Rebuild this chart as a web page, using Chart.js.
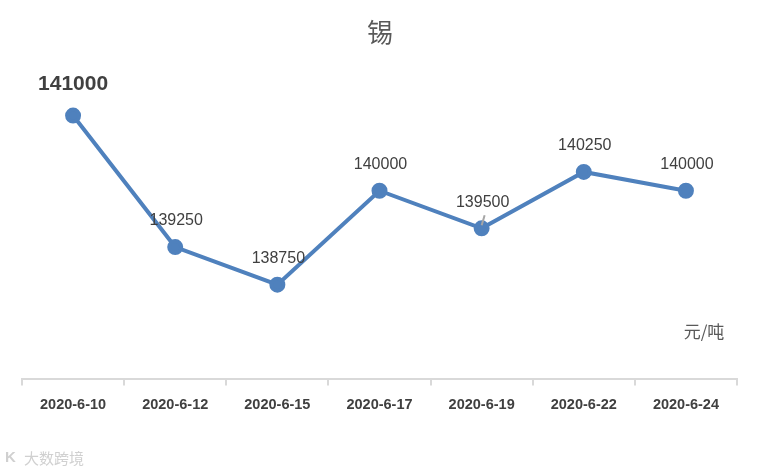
<!DOCTYPE html>
<html lang="zh">
<head>
<meta charset="UTF-8">
<title>锡</title>
<script src="https://cdn.jsdelivr.net/npm/chart.js"></script>
<style>
  body { margin: 0; background: #fff; }
  #wrap { width: 760px; height: 472px; }
</style>
</head>
<body>
<div id="wrap"><canvas id="tinChart" width="760" height="472"></canvas></div>
<script>
// data (元/吨)
const dates = ['2020-6-10', '2020-6-12', '2020-6-15', '2020-6-17', '2020-6-19', '2020-6-22', '2020-6-24'];
const prices = [141000, 139250, 138750, 140000, 139500, 140250, 140000];
const chartTitle = '锡';
const unitLabel = '元/吨';
const watermark = '大数跨境';

const lineBlue = '#4f81bd';
const textGrey = '#404040';
const axisGrey = '#d9d9d9';

// draws title, unit, watermark and the value labels over the points
const extras = {
  id: 'extras',
  afterDatasetsDraw(chart) {
    const ctx = chart.ctx;
    const meta = chart.getDatasetMeta(0);
    ctx.save();
    ctx.textAlign = 'center';
    ctx.textBaseline = 'middle';

    ctx.fillStyle = '#595959';
    ctx.font = '26px "Noto Sans CJK SC"';
    ctx.fillText(chartTitle, 380, 32);

    ctx.font = '17px "Noto Sans CJK SC"';
    ctx.fillText(unitLabel, 704, 332);

    // leader line for the 5th label
    const p4 = meta.data[4];
    ctx.strokeStyle = '#a6a6a6';
    ctx.lineWidth = 2;
    ctx.beginPath();
    ctx.moveTo(p4.x, p4.y - 3);
    ctx.lineTo(p4.x + 3, p4.y - 13);
    ctx.stroke();

    meta.data.forEach((pt, i) => {
      ctx.fillStyle = textGrey;
      if (i === 0) {
        ctx.font = 'bold 21px "Liberation Sans"';
        ctx.fillText(prices[i], pt.x, pt.y - 31);
      } else {
        ctx.font = '16px "Liberation Sans"';
        ctx.fillText(prices[i], pt.x + 1, pt.y - 26);
      }
    });

    // watermark
    ctx.textAlign = 'left';
    ctx.fillStyle = '#d0d0d0';
    ctx.font = 'bold 15px "Liberation Sans"';
    ctx.fillText('K', 5, 458);
    ctx.font = '15px "Noto Sans CJK SC"';
    ctx.fillText(watermark, 24, 458);
    ctx.restore();
  }
};

new Chart(document.getElementById('tinChart'), {
  type: 'line',
  data: {
    labels: dates,
    datasets: [{
      data: prices,
      borderColor: lineBlue,
      backgroundColor: lineBlue,
      borderWidth: 4,
      pointRadius: 6,
      pointHoverRadius: 6,
      tension: 0,
      fill: false
    }]
  },
  options: {
    responsive: false,
    animation: false,
    layout: { padding: { left: 22, right: 23, top: 78, bottom: 47 } },
    plugins: {
      legend: { display: false },
      title: { display: false },
      tooltip: { enabled: false }
    },
    scales: {
      x: {
        offset: true,
        grid: {
          offset: true,
          drawOnChartArea: false,
          drawTicks: true,
          tickLength: 7,
          color: axisGrey,
          lineWidth: 2
        },
        border: { display: true, color: axisGrey, width: 2 },
        ticks: {
          padding: 11,
          color: textGrey,
          font: { family: '"Liberation Sans"', size: 14.5, weight: 'bold' },
          maxRotation: 0,
          autoSkip: false
        }
      },
      y: {
        display: false,
        min: 137500,
        max: 141500
      }
    }
  },
  plugins: [extras]
});
</script>
</body>
</html>
